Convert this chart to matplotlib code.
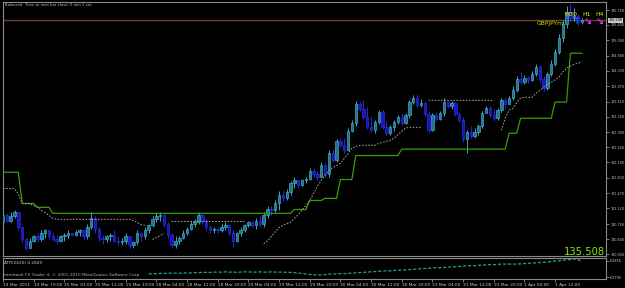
import numpy as np
import matplotlib
matplotlib.use("Agg")
import matplotlib.pyplot as plt
from matplotlib import font_manager
from matplotlib.transforms import blended_transform_factory

# ---------------- data ----------------
symbol = "GBPJPYm"
first_open = 130.79
closes = [
    130.97, 130.83, 130.93, 131.02, 130.69, 130.41, 130.20, 130.36, 130.46, 130.41,
    130.55, 130.60, 130.46, 130.41, 130.36, 130.46, 130.50, 130.53, 130.50, 130.57,
    130.60, 130.46, 130.67, 130.88, 130.64, 130.43, 130.39, 130.46, 130.50, 130.36,
    130.32, 130.36, 130.46, 130.27, 130.32, 130.53, 130.46, 130.60, 130.72, 130.86,
    130.93, 130.97, 130.74, 130.50, 130.27, 130.36, 130.43, 130.55, 130.64, 130.76,
    130.79, 130.97, 130.81, 130.67, 130.60, 130.64, 130.62, 130.67, 130.72, 130.55,
    130.36, 130.53, 130.62, 130.72, 130.79, 130.72, 130.83, 130.74, 130.95, 131.11,
    131.07, 131.25, 131.42, 131.35, 131.49, 131.70, 131.77, 131.67, 131.77, 131.81,
    132.00, 131.91, 131.86, 132.12, 131.91, 132.42, 132.24, 132.68, 132.59, 132.47,
    132.92, 133.10, 133.55, 133.43, 133.24, 133.01, 132.94, 133.13, 133.36, 133.01,
    132.87, 133.01, 133.13, 133.24, 133.10, 133.29, 133.59, 133.69, 133.52, 133.57,
    133.31, 132.94, 133.29, 133.20, 133.34, 133.59, 133.50, 133.57, 133.31, 133.17,
    132.73, 132.89, 132.80, 132.89, 133.03, 133.34, 133.45, 133.29, 133.22, 133.41,
    133.64, 133.55, 133.69, 133.87, 134.13, 134.06, 134.16, 134.11, 134.25, 134.41,
    134.13, 133.92, 134.25, 134.48, 134.76, 135.09, 135.42, 135.70, 135.56, 135.61,
    135.47, 135.508,
]
highs = [
    131.04, 131.00, 131.02, 131.07, 131.02, 130.69, 130.43, 130.43, 130.50, 130.53,
    130.60, 130.64, 130.62, 130.55, 130.48, 130.50, 130.55, 130.60, 130.55, 130.62,
    130.64, 130.62, 130.74, 131.02, 130.93, 130.69, 130.50, 130.50, 130.55, 130.60,
    130.46, 130.43, 130.53, 130.48, 130.36, 130.60, 130.55, 130.69, 130.76, 130.93,
    131.00, 131.04, 131.00, 130.79, 130.55, 130.46, 130.48, 130.60, 130.69, 130.81,
    130.86, 131.02, 131.00, 130.86, 130.72, 130.69, 130.69, 130.74, 130.79, 130.74,
    130.60, 130.57, 130.69, 130.76, 130.83, 130.83, 130.88, 130.93, 131.02, 131.18,
    131.18, 131.32, 131.53, 131.53, 131.56, 131.75, 131.84, 131.79, 131.81, 131.86,
    132.07, 132.05, 132.00, 132.19, 132.17, 132.47, 132.47, 132.73, 132.75, 132.75,
    132.99, 133.17, 133.62, 133.59, 133.64, 133.48, 133.27, 133.17, 133.41, 133.41,
    133.15, 133.06, 133.17, 133.29, 133.34, 133.34, 133.64, 133.76, 133.78, 133.66,
    133.62, 133.38, 133.34, 133.36, 133.38, 133.69, 133.62, 133.62, 133.59, 133.36,
    133.24, 132.94, 133.03, 132.99, 133.08, 133.38, 133.50, 133.50, 133.43, 133.45,
    133.69, 133.71, 133.73, 133.97, 134.20, 134.30, 134.23, 134.20, 134.32, 134.48,
    134.46, 134.20, 134.30, 134.58, 134.84, 135.19, 135.51, 135.84, 135.89, 135.80,
    135.66, 135.56,
]
lows = [
    130.74, 130.79, 130.79, 130.88, 130.62, 130.32, 130.15, 130.18, 130.32, 130.34,
    130.36, 130.43, 130.41, 130.36, 130.29, 130.32, 130.36, 130.43, 130.46, 130.46,
    130.48, 130.41, 130.41, 130.64, 130.55, 130.36, 130.29, 130.32, 130.36, 130.32,
    130.27, 130.25, 130.29, 130.18, 130.20, 130.27, 130.36, 130.41, 130.55, 130.69,
    130.79, 130.83, 130.67, 130.43, 130.18, 130.20, 130.29, 130.39, 130.50, 130.60,
    130.69, 130.74, 130.74, 130.60, 130.55, 130.55, 130.53, 130.57, 130.60, 130.50,
    130.22, 130.34, 130.48, 130.57, 130.67, 130.67, 130.64, 130.67, 130.69, 130.88,
    130.97, 131.02, 131.07, 131.28, 131.32, 131.44, 131.60, 131.60, 131.65, 131.70,
    131.77, 131.86, 131.79, 131.84, 131.86, 131.86, 132.19, 132.21, 132.54, 132.40,
    132.47, 132.89, 133.03, 133.38, 133.20, 132.96, 132.89, 132.87, 133.08, 132.96,
    132.82, 132.84, 132.92, 133.08, 133.06, 133.08, 133.22, 133.55, 133.48, 133.48,
    133.27, 132.87, 132.92, 133.15, 133.17, 133.27, 133.45, 133.43, 133.27, 133.13,
    132.66, 132.42, 132.75, 132.75, 132.82, 132.99, 133.34, 133.24, 133.15, 133.17,
    133.36, 133.45, 133.55, 133.64, 133.83, 134.01, 134.01, 134.04, 134.09, 134.20,
    134.06, 133.85, 133.88, 134.20, 134.44, 134.72, 135.00, 135.33, 135.47, 135.50,
    135.38, 135.42,
]
# green stop line: level and the bar where that level begins
stop_levels = [131.96, 131.23, 131.14, 131.00, 131.09, 131.30, 131.35, 131.79,
               132.35, 132.50, 132.87, 133.22, 133.60, 134.74]
stop_start_bars = [0, 5, 9, 13, 76, 80, 84, 88, 92, 104, 132, 135, 144, 148]
# grey dotted trailing line (None = no value)
trail_stop = [
    131.58, 131.58, 131.58, 131.58, 131.46, 131.23, 131.23, 131.23, 131.18, 131.14,
    131.07, 131.02, 130.95, 130.88, 130.86, 130.86, 130.86, 130.86, 130.86, 130.86,
    130.86, 130.86, 130.86, 130.86, 130.86, 130.86, 130.86, 130.86, 130.86, 130.86,
    130.86, 130.86, 130.86, 130.86, 130.83, 130.79, 130.74, 130.72, None, 130.39,
    130.43, 130.48, 130.53, None, 130.81, 130.81, 130.81, 130.81, 130.81, 130.81,
    130.81, 130.81, 130.81, 130.81, 130.81, 130.81, 130.81, 130.81, 130.81, 130.81,
    130.81, 130.81, 130.81, 130.81, None, None, None, None, 130.29, 130.36,
    130.46, 130.57, 130.67, 130.72, 130.76, 130.79, 130.88, 130.97, 131.07, 131.18,
    131.30, 131.46, 131.63, 131.77, 131.89, 132.00, 132.07, 132.12, 132.17, 132.28,
    132.40, 132.52, 132.56, 132.59, 132.59, 132.59, 132.59, 132.59, 132.63, 132.66,
    132.68, 132.71, 132.75, 132.84, 132.92, 132.99, 133.01, 133.01, 133.01, 133.01,
    None, 133.64, 133.64, 133.64, 133.64, 133.64, 133.64, 133.64, 133.64, 133.64,
    133.64, 133.64, 133.64, 133.64, 133.64, 133.64, 133.64, 133.64, 133.62, None,
    132.94, 133.22, 133.41, 133.45, 133.59, 133.69, 133.71, 133.71, 133.71, 133.80,
    133.87, 133.94, 134.01, 134.06, 134.12, 134.18, 134.30, 134.39, 134.44, 134.48,
    134.51, 134.53,
]
atr_first_bar = 38
atr_values = [
    0.2806, 0.2807, 0.2807, 0.2808, 0.2808,
    0.2809, 0.2809, 0.2809, 0.2809, 0.2809, 0.2810,
    0.2810, 0.2811, 0.2811, 0.2812, 0.2812, 0.2812, 0.2813, 0.2813,
    0.2813, 0.2814, 0.2813, 0.2813, 0.2812, 0.2813, 0.2814, 0.2814, 0.2813, 0.2813,
    0.2814, 0.2813, 0.2813, 0.2814, 0.2813, 0.2813, 0.2813,
    0.2812, 0.2812, 0.2811, 0.2809, 0.2808, 0.2806,
    0.2804, 0.2803, 0.2802, 0.2802, 0.2803, 0.2805, 0.2806,
    0.2806, 0.2807, 0.2807, 0.2808, 0.2809, 0.2810, 0.2811, 0.2812, 0.2813,
    0.2814, 0.2815, 0.2816, 0.2817, 0.2818, 0.2818, 0.2819, 0.2820, 0.2821,
    0.2822, 0.2823, 0.2824, 0.2825, 0.2826, 0.2827, 0.2828, 0.2829, 0.2830, 0.2830, 0.2831,
    0.2832, 0.2833, 0.2834, 0.2835, 0.2836, 0.2837, 0.2838, 0.2838, 0.2839, 0.2840,
    0.2841, 0.2842, 0.2842, 0.2843, 0.2844, 0.2844, 0.2844, 0.2844, 0.2844, 0.2845,
    0.2846, 0.2847, 0.2848, 0.2849, 0.2850, 0.2851, 0.2852,
    0.2854, 0.2856, 0.2857, 0.2859, 0.2860, 0.2862,
    0.2864, 0.2860, 0.2856,
]
price_ticks = [135.750, 135.400, 135.040, 134.680, 134.330, 133.970, 133.610,
               133.260, 132.900, 132.540, 132.190, 131.830, 131.470, 131.120,
               130.750, 130.400, 130.050]
atr_ticks = [0.2856, 0.2794]
time_labels = ["24 Mar 2011", "24 Mar 19:00", "25 Mar 03:00", "25 Mar 11:00",
               "25 Mar 19:00", "28 Mar 04:00", "28 Mar 12:00", "28 Mar 20:00",
               "29 Mar 04:00", "29 Mar 12:00", "29 Mar 20:00", "30 Mar 04:00",
               "30 Mar 12:00", "30 Mar 20:00", "31 Mar 04:00", "31 Mar 12:00",
               "31 Mar 20:00", "1 Apr 04:00", "1 Apr 12:00"]
time_label_bars = [0, 8, 16, 24, 32, 40, 48, 56, 64, 72, 80, 88, 96, 104,
                   112, 120, 128, 136, 144]
bid_price = 135.508
atr_label = "ATR(2620) 0.2849"
timeframes = ["M30", "H1", "H4"]
header_text = "Balanced  Time to next bar close: 0 min 1 sec"
copyright_text = "Interbank FX Trader 4, \u00a9 2001-2010 MetaQuotes Software Corp."

# ---------------- fonts ----------------
names = {f.name for f in font_manager.fontManager.ttflist}
if "Liberation Sans Narrow" in names:
    NARROW, FS = "Liberation Sans Narrow", 1.0
else:
    NARROW, FS = "DejaVu Sans", 0.72
plt.rcParams["font.family"] = [NARROW, "DejaVu Sans"]

# ---------------- layout ----------------
W, H = 625, 288
fig = plt.figure(figsize=(W / 100, H / 100), dpi=100, facecolor="black")
fx = lambda px: px / W
fy = lambda py: 1 - py / H
BAR_PX, BAR0_PX = 3.84, 2.0
L_PX, R_PX = 3, 606

ax = fig.add_axes([fx(L_PX), fy(256), fx(R_PX) - fx(L_PX), fy(2) - fy(256)])
atr_ax = fig.add_axes([fx(L_PX), fy(279), fx(R_PX) - fx(L_PX), fy(258) - fy(279)], sharex=ax)
for a in (ax, atr_ax):
    a.set_facecolor("black")
    for s in a.spines.values():
        s.set_color("#8a8a8a")
        s.set_linewidth(0.8)

# ---------------- candles ----------------
c = np.array(closes, float)
hi = np.array(highs, float)
lo = np.array(lows, float)
o = np.r_[first_open, c[:-1]]
x = np.arange(len(c))
up = c >= o
bull_edge, bull_face = "#3ea8c2", "#24728a"
bear_edge, bear_face = "#2a2ae0", "#1616c4"
wick_cols = np.where(up, bull_edge, bear_edge)
ax.vlines(x, lo, hi, colors=wick_cols, lw=0.7, zorder=3)
ax.bar(x, np.abs(c - o), bottom=np.minimum(o, c), width=0.62,
       color=np.where(up, bull_face, bear_face),
       edgecolor=wick_cols, linewidth=0.5, zorder=4)

# ---------------- indicator lines ----------------
n_ind = len(trail_stop)
stop_line = np.repeat(stop_levels, np.diff(stop_start_bars + [n_ind]))
ax.plot(np.arange(n_ind), stop_line, color="#34a000", lw=0.9, zorder=5)
trail = np.array([np.nan if v is None else v for v in trail_stop], float)
ax.plot(np.arange(n_ind), trail, color="#a8a8a8", lw=0.7,
        ls=(0, (1.6, 1.6)), zorder=5)

# bid line
ax.axhline(bid_price, color="#6e4030", lw=1.0, zorder=2)

ax.set_xlim((L_PX - BAR0_PX) / BAR_PX, (R_PX - BAR0_PX) / BAR_PX)
ax.set_ylim(135.984 - 0.023361 * 256, 135.984 - 0.023361 * 2)

LBL = 3.4 * FS
# price axis
ax.yaxis.tick_right()
ax.set_yticks(price_ticks)
ax.set_yticklabels([f"{v:.3f}" for v in price_ticks])
ax.tick_params(axis="y", colors="#8a8a8a", labelcolor="#c8c8c8",
               labelsize=LBL, length=2, width=0.6, pad=1.0)
ax.tick_params(axis="x", bottom=False, labelbottom=False)
tr = blended_transform_factory(ax.transAxes, ax.transData)
ax.text(1.004, bid_price, f"{bid_price:.3f}", transform=tr, ha="left",
        va="center", fontsize=LBL, color="black", zorder=10,
        bbox=dict(facecolor="#c8c8c8", edgecolor="none", pad=0.5),
        clip_on=False)

# ---------------- ATR ----------------
atr = np.full(n_ind, np.nan)
atr[atr_first_bar:atr_first_bar + len(atr_values)] = atr_values
atr_ax.plot(np.arange(n_ind), atr, color="#1fa0a0", lw=0.9,
            ls=(0, (2.5, 1.5)))
atr_ax.set_ylim(0.27863, 0.28676)
atr_ax.yaxis.tick_right()
atr_ax.set_yticks(atr_ticks)
atr_ax.set_yticklabels([f"{v:.4f}" for v in atr_ticks])
atr_ax.tick_params(axis="y", colors="#8a8a8a", labelcolor="#c8c8c8",
                   labelsize=LBL, length=2, width=0.6, pad=1.0)
atr_ax.set_xticks(time_label_bars)
atr_ax.set_xticklabels(time_labels)
atr_ax.tick_params(axis="x", colors="#8a8a8a", labelcolor="#c8c8c8",
                   labelsize=4.2 * FS, length=2, width=0.6, pad=0.8)
for lab in atr_ax.get_xticklabels():
    lab.set_ha("left")

# ---------------- texts ----------------
fig.text(fx(5), fy(5), header_text, fontsize=3.8 * FS, color="#b8c4c4",
         va="center", ha="left")
fig.text(fx(4), fy(263.5), atr_label, fontsize=4.2 * FS, color="#c8c8c8",
         va="center", ha="left")
fig.text(fx(3), fy(275), copyright_text, fontsize=4.2 * FS, color="#b0b0b0",
         va="center", ha="left")
fig.text(fx(605), fy(255), f"{bid_price:.3f}", fontsize=10 * FS,
         color="#7ff000", ha="right", va="baseline")
for name, px in zip(timeframes, [564, 582, 595]):
    fig.text(fx(px), fy(15.5), name, fontsize=6.2 * FS, color="#e8e800",
             ha="left", va="baseline")
fig.text(fx(537), fy(25.5), symbol, fontsize=6.0 * FS, color="#d8d800",
         ha="left", va="baseline")
fig.text(fx(576), fy(21.5), "\u2191", fontsize=7, color="#2848ff",
         ha="center", va="center", family="DejaVu Sans", fontweight="bold")
for px in (588, 600):
    fig.text(fx(px), fy(21.5), "\u2198", fontsize=7, color="#ff20ff",
             ha="center", va="center", family="DejaVu Sans", fontweight="bold")

fig.savefig("out.png", dpi=100, facecolor="black")
